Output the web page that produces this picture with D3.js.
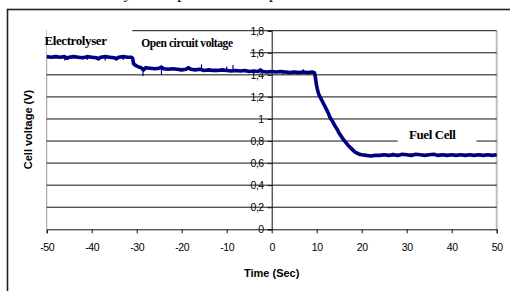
<!DOCTYPE html>
<html>
<head>
<meta charset="utf-8">
<script src="https://cdn.jsdelivr.net/npm/d3@7"></script>
<style>
  body { margin: 0; background: #fff; }
  svg { display: block; }
  .tick-label { font-family: Arial, "Liberation Sans", sans-serif; font-size: 10.5px; letter-spacing: -0.5px; fill: #000; }
  .axis-title { font-family: Arial, "Liberation Sans", sans-serif; font-size: 11px; font-weight: bold; fill: #000; }
  .note { font-family: "Times New Roman", "Liberation Serif", serif; font-weight: bold; fill: #000; letter-spacing: -0.4px; }
</style>
</head>
<body>
<svg id="chart" width="510" height="291"></svg>
<script>
// time (s) and cell voltage (V)
const time = [
  -50, -49, -48, -47, -46, -45.5, -45, -44, -43, -42, -41, -40, -39, -38.5, -38, -37, -36, -35, -34.5, -34,
  -33, -32, -31.2, -30.9, -30.7, -30.4, -30, -29.5, -29, -28.5, -28, -27, -26, -25, -24.5, -24, -23, -22, -21, -20,
  -19, -18.5, -18, -17, -16, -15, -14, -13, -12, -11, -10, -9, -8, -7, -6, -5, -4, -3, -2.5, -2,
  -1, 0, 1, 2, 3, 4, 5, 6, 7, 8, 9, 9.5, 9.7, 9.9, 10.2, 10.5, 11, 11.5, 12, 12.5,
  13, 13.5, 14, 14.5, 15, 15.5, 16, 16.5, 17, 17.5, 18, 18.5, 19, 19.5, 20, 21, 22, 23, 24, 25,
  26, 27, 28, 29, 30, 31, 32, 33, 34, 35, 36, 37, 38, 39, 40, 41, 42, 43, 44, 45,
  46, 47, 48, 49, 50
];
const voltage = [
  1.565, 1.56, 1.565, 1.56, 1.565, 1.55, 1.56, 1.565, 1.56, 1.555, 1.565, 1.56, 1.555, 1.545, 1.56, 1.565, 1.56, 1.555, 1.545, 1.56,
  1.565, 1.56, 1.56, 1.55, 1.50, 1.49, 1.48, 1.47, 1.465, 1.445, 1.465, 1.46, 1.455, 1.46, 1.47, 1.455, 1.45, 1.455, 1.45, 1.445,
  1.45, 1.465, 1.45, 1.445, 1.45, 1.44, 1.445, 1.44, 1.44, 1.445, 1.44, 1.435, 1.44, 1.435, 1.44, 1.43, 1.435, 1.43, 1.445, 1.43,
  1.425, 1.43, 1.425, 1.43, 1.425, 1.42, 1.425, 1.42, 1.425, 1.42, 1.425, 1.42, 1.38, 1.32, 1.26, 1.22, 1.18, 1.14, 1.10, 1.06,
  1.01, 0.98, 0.94, 0.91, 0.87, 0.84, 0.81, 0.785, 0.76, 0.74, 0.72, 0.70, 0.69, 0.68, 0.675, 0.67, 0.665, 0.67, 0.67, 0.675,
  0.67, 0.675, 0.67, 0.68, 0.675, 0.67, 0.68, 0.675, 0.67, 0.675, 0.68, 0.67, 0.675, 0.67, 0.675, 0.67, 0.675, 0.67, 0.675, 0.67,
  0.675, 0.67, 0.675, 0.67, 0.675
];
// thin noise spikes: time, low, high
const spikes = [
  [-46, 1.53, 1.565], [-41, 1.535, 1.565], [-37, 1.53, 1.565], [-33, 1.535, 1.565],
  [-28.6, 1.39, 1.46], [-24.5, 1.40, 1.46], [-15.6, 1.44, 1.495], [-10, 1.44, 1.475],
  [-8.6, 1.43, 1.49], [-4, 1.40, 1.435], [2.5, 1.40, 1.43], [7, 1.42, 1.45],
  [27, 0.67, 0.695], [31, 0.67, 0.69], [36, 0.67, 0.69]
];
const yTicks = [0, 0.2, 0.4, 0.6, 0.8, 1, 1.2, 1.4, 1.6, 1.8];
const xTicks = [-50, -40, -30, -20, -10, 0, 10, 20, 30, 40, 50];
const notes = [
  { label: 'Electrolyser', t: -50.5, v: 1.67, size: 13, box: [-50, -31, 1.565, 1.835] },
  { label: 'Open circuit voltage', t: -29, v: 1.65, size: 11.5, box: [-31, -4.8, 1.565, 1.78] },
  { label: 'Fuel Cell', t: 30.5, v: 0.82, size: 13, box: [28, 45.5, 0.745, 0.915] }
];

const svg = d3.select('#chart');

const x = d3.scaleLinear().domain([-50, 50]).range([46.7, 496.7]);
const y = d3.scaleLinear().domain([0, 1.8]).range([229.3, 30.7]);

// caption of the page above, only its descenders show
svg.append('text')
  .attr('x', 36)
  .attr('y', -2.5)
  .attr('font-family', '"Liberation Serif", serif')
  .attr('font-size', 16)
  .text('current density, a comparison of the performance');

// outer frame
svg.append('rect')
  .attr('x', 7.5)
  .attr('y', 9.5)
  .attr('width', 600)
  .attr('height', 400)
  .attr('fill', 'none')
  .attr('stroke', '#222')
  .attr('stroke-width', 1.6);

// plot area sides
svg.append('line')
  .attr('x1', x(-50)).attr('x2', x(-50))
  .attr('y1', y(1.8)).attr('y2', y(0))
  .attr('stroke', '#9a9a9a');
svg.append('line')
  .attr('x1', x(50)).attr('x2', x(50))
  .attr('y1', y(1.8)).attr('y2', y(0))
  .attr('stroke', '#bcbcbc')
  .attr('stroke-width', 2);

// y tick labels sit on the x = 0 axis, gridlines run over them
svg.append('g')
  .selectAll('text')
  .data(yTicks)
  .enter()
  .append('text')
  .attr('class', 'tick-label')
  .attr('x', x(0) - 8)
  .attr('y', d => y(d) + 3.8)
  .attr('text-anchor', 'end')
  .text(d => String(d).replace('.', ','));

svg.append('g')
  .selectAll('line')
  .data(yTicks.filter(d => d > 0))
  .enter()
  .append('line')
  .attr('x1', x(-50))
  .attr('x2', x(50))
  .attr('y1', d => y(d))
  .attr('y2', d => y(d))
  .attr('stroke', '#111')
  .attr('stroke-width', 1);

// axes
const xAxis = d3.axisBottom(x).tickValues(xTicks).tickSize(4).tickFormat(d => d);
svg.append('g')
  .attr('transform', `translate(0,${y(0)})`)
  .call(xAxis)
  .call(g => g.select('.domain').attr('stroke', '#111'))
  .call(g => g.selectAll('.tick line').attr('stroke', '#111'))
  .call(g => g.selectAll('.tick text')
    .attr('class', 'tick-label')
    .attr('y', 14)
    .attr('dy', '0.71em')
    .attr('font-size', null)
    .attr('font-family', null));

const yAxis = d3.axisLeft(y).tickValues(yTicks).tickSize(4).tickFormat('');
svg.append('g')
  .attr('transform', `translate(${x(0)},0)`)
  .call(yAxis)
  .call(g => g.select('.domain').attr('stroke', '#111'))
  .call(g => g.selectAll('.tick line').attr('stroke', '#111'));

// white label boxes hide the gridlines behind the notes
const notesNode = svg.append('g')
  .selectAll('g')
  .data(notes)
  .enter()
  .append('g');

notesNode.append('rect')
  .attr('x', d => x(d.box[0]))
  .attr('y', d => y(d.box[3]))
  .attr('width', d => x(d.box[1]) - x(d.box[0]))
  .attr('height', d => y(d.box[2]) - y(d.box[3]))
  .attr('fill', '#fff');

notesNode.append('text')
  .attr('class', 'note')
  .attr('x', d => x(d.t))
  .attr('y', d => y(d.v))
  .attr('font-size', d => d.size)
  .text(d => d.label);

// measured curve
const points = time.map((t, i) => [t, voltage[i]]);
const line = d3.line().x(d => x(d[0])).y(d => y(d[1]));

svg.append('g')
  .selectAll('line')
  .data(spikes)
  .enter()
  .append('line')
  .attr('x1', d => x(d[0]))
  .attr('x2', d => x(d[0]))
  .attr('y1', d => y(d[1]))
  .attr('y2', d => y(d[2]))
  .attr('stroke', '#000080')
  .attr('stroke-width', 1.2);

svg.append('path')
  .datum(points)
  .attr('d', line)
  .attr('fill', 'none')
  .attr('stroke', '#000080')
  .attr('stroke-width', 3.6)
  .attr('stroke-linejoin', 'round');

// axis titles
svg.append('text')
  .attr('class', 'axis-title')
  .attr('x', x(0))
  .attr('y', 276.5)
  .attr('text-anchor', 'middle')
  .text('Time (Sec)');

svg.append('text')
  .attr('class', 'axis-title')
  .attr('transform', 'translate(31.5,129.5) rotate(-90)')
  .attr('text-anchor', 'middle')
  .text('Cell voltage (V)');
</script>
</body>
</html>
